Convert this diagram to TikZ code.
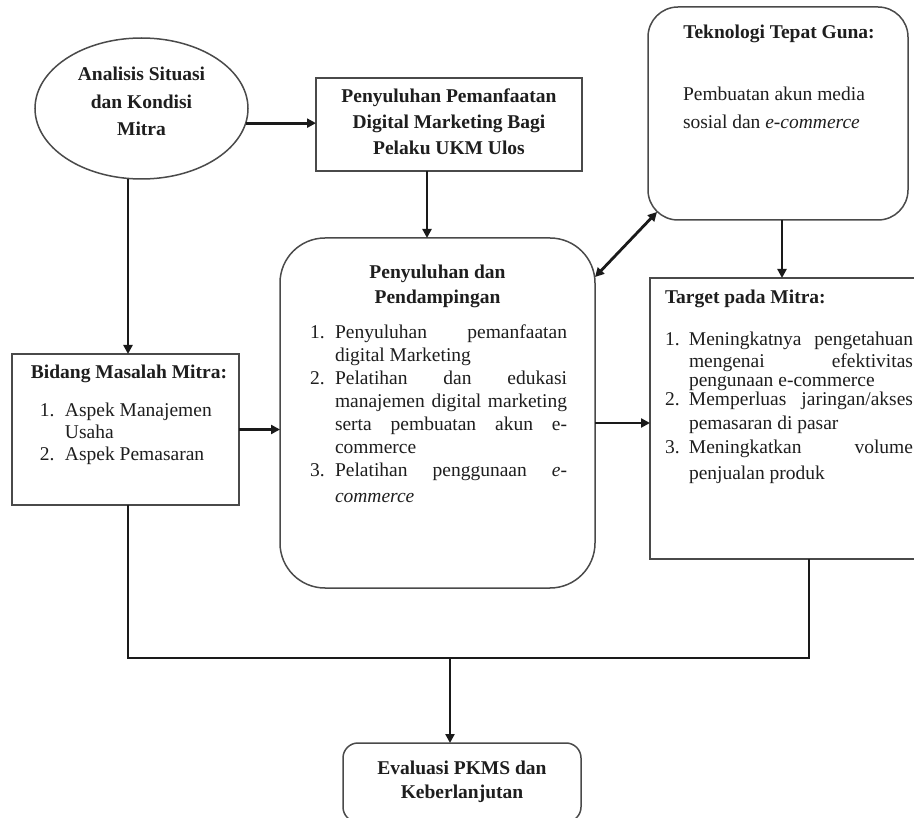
\documentclass[tikz,border=0pt]{standalone}
\usepackage{fontspec}
\setmainfont{Liberation Serif}
\usetikzlibrary{shapes.geometric,arrows.meta,calc}
\definecolor{txt}{HTML}{1E1E1E}
\definecolor{brd}{HTML}{4A4A4A}
\definecolor{lnk}{HTML}{1A1A1A}
\newcommand{\fsz}{\fontsize{19.5}{23}\selectfont}
\newcommand{\Lr}[1]{\makebox[\linewidth][l]{#1}\strut}
\newcommand{\Lc}[1]{\makebox[\linewidth][c]{#1}\strut}
\newcommand{\Js}[2]{\makebox[#1][s]{#2}}
\tikzset{
  box/.style={draw=brd, line width=1.5pt, inner sep=0pt, outer sep=0pt, text=txt},
  rbox/.style={box, rounded corners=#1},
  conn/.style={draw=lnk, line width=2.8pt, line join=miter},
  arr/.style={conn, -{Triangle[length=9pt,width=9pt]}},
  darr/.style={conn, {Triangle[length=9pt,width=9pt]}-{Triangle[length=9pt,width=9pt]}},
}
\begin{document}
\begin{tikzpicture}[x=1pt,y=-1pt]
\useasboundingbox (0,0) rectangle (914,818);
\clip (0,0) rectangle (914,818);
\fill[white] (0,0) rectangle (914,818);

% Analisis Situasi (ellipse)
\node[box, ellipse, minimum width=213pt, minimum height=141pt] (A) at (141.5,108.5)
  {\parbox[c][90pt][t]{140pt}{\fontsize{19.5}{27.5}\selectfont\bfseries\vspace*{-1.75pt}%
   \Lc{Analisis Situasi}\\\Lc{dan Kondisi}\\\Lc{Mitra}}};

% Penyuluhan Pemanfaatan
\node[box, minimum width=266pt, minimum height=93pt] (B) at (449,124.5)
  {\parbox[c][93pt][t]{260pt}{\fontsize{19.5}{26}\selectfont\bfseries\vspace*{6.8pt}%
   \Lc{Penyuluhan Pemanfaatan}\\\Lc{Digital Marketing Bagi}\\\Lc{Pelaku UKM Ulos}}};

% Teknologi Tepat Guna
\node[rbox=30pt, minimum width=260pt, minimum height=213pt] (T) at (778,113.5)
  {\parbox[c][213pt][t]{260pt}{\fontsize{19.5}{28}\selectfont\vspace*{12.4pt}%
   \Lc{\hspace*{2pt}\textbf{Teknologi Tepat Guna:}}\\[34pt]%
   \Lr{\hspace*{35pt}Pembuatan akun media}\\%
   \Lr{\hspace*{35pt}sosial dan \textit{e-commerce}}}};

% Penyuluhan dan Pendampingan
\node[rbox=45pt, minimum width=315pt, minimum height=350pt] (C) at (437.5,413)
  {\parbox[c][350pt][t]{315pt}{\fsz\vspace*{24.9pt}%
   \Lc{\textbf{Penyuluhan dan}}\\[2pt]%
   \Lc{\textbf{Pendampingan}}\\[12pt]%
   \Lr{\hspace*{30pt}\makebox[25pt][l]{1.}\Js{232pt}{Penyuluhan pemanfaatan}}\\%
   \Lr{\hspace*{55pt}digital Marketing}\\%
   \Lr{\hspace*{30pt}\makebox[25pt][l]{2.}\Js{232pt}{Pelatihan dan edukasi}}\\%
   \Lr{\hspace*{55pt}\Js{232pt}{manajemen digital marketing}}\\%
   \Lr{\hspace*{55pt}\Js{232pt}{serta pembuatan akun e-}}\\%
   \Lr{\hspace*{55pt}commerce}\\%
   \Lr{\hspace*{30pt}\makebox[25pt][l]{3.}\Js{232pt}{Pelatihan penggunaan \textit{e-}}}\\[3pt]%
   \Lr{\hspace*{55pt}\textit{commerce}}}};

% Bidang Masalah Mitra
\node[box, minimum width=227pt, minimum height=151pt] (D) at (125.5,429.5)
  {\parbox[c][151pt][t]{227pt}{\fsz\vspace*{8.9pt}%
   \Lc{\hspace*{7pt}\textbf{Bidang Masalah Mitra:}}\\[14pt]%
   \Lr{\hspace*{28pt}\makebox[25pt][l]{1.}Aspek Manajemen}\\%
   \Lr{\hspace*{53pt}Usaha}\\[-1pt]%
   \Lr{\hspace*{28pt}\makebox[25pt][l]{2.}Aspek Pemasaran}}};

% Target pada Mitra
\node[box, minimum width=268pt, minimum height=281pt] (E) at (784,418.5)
  {\parbox[c][281pt][t]{268pt}{\fsz\vspace*{8.9pt}%
   \Lr{\hspace*{15pt}\textbf{Target pada Mitra:}}\\[20pt]%
   \Lr{\hspace*{15pt}\makebox[24pt][l]{1.}\Js{224pt}{Meningkatnya pengetahuan}}\\[-2pt]%
   \Lr{\hspace*{39pt}\Js{224pt}{mengenai efektivitas}}\\[-4pt]%
   \Lr{\hspace*{39pt}pengunaan e-commerce}\\[-3pt]%
   \Lr{\hspace*{15pt}\makebox[24pt][l]{2.}\Js{224pt}{Memperluas jaringan/akses}}\\[1pt]%
   \Lr{\hspace*{39pt}pemasaran di pasar}\\[1pt]%
   \Lr{\hspace*{15pt}\makebox[24pt][l]{3.}\Js{224pt}{Meningkatkan volume}}\\[3pt]%
   \Lr{\hspace*{39pt}penjualan produk}}};

% Evaluasi
\node[rbox=15pt, minimum width=238pt, minimum height=79pt] (F) at (462,782.5)
  {\parbox[c][79pt][t]{238pt}{\fsz\vspace*{14.9pt}%
   \Lc{\textbf{Evaluasi PKMS dan}}\\[1pt]%
   \Lc{\textbf{Keberlanjutan}}}};

% connectors
\coordinate (dtop) at ([xshift=2.5pt]D.north);
\coordinate (dbot) at ([xshift=2.5pt]D.south);
\coordinate (ebot) at ([xshift=25pt]E.south);
\coordinate (J) at (450,658);
\coordinate (btm) at ([xshift=-22pt]B.south);
\coordinate (ttm) at ([xshift=4pt]T.south);
\coordinate (cr) at ([yshift=-10pt]C.east);
\coordinate (cne) at ([yshift=-39pt]C.north east);
\coordinate (tsw) at ([xshift=9pt,yshift=8pt]T.south west);

\draw[arr] (A.-8) -- (A.-8 -| B.west);
\draw[arr] (A.south -| dtop) -- (dtop);
\draw[arr] (btm) -- (btm |- C.north);
\draw[arr] (ttm) -- (ttm |- E.north);
\draw[darr] (cne) -- (tsw);
\draw[arr] (cr) -- (cr -| E.west);
\draw[arr] (D.east) -- (D.east -| C.west);
\draw[conn] (dbot) -- (dbot |- J) -- (J -| ebot) -- (ebot);
\draw[arr] (J) -- (J |- F.north);
\end{tikzpicture}
\end{document}
